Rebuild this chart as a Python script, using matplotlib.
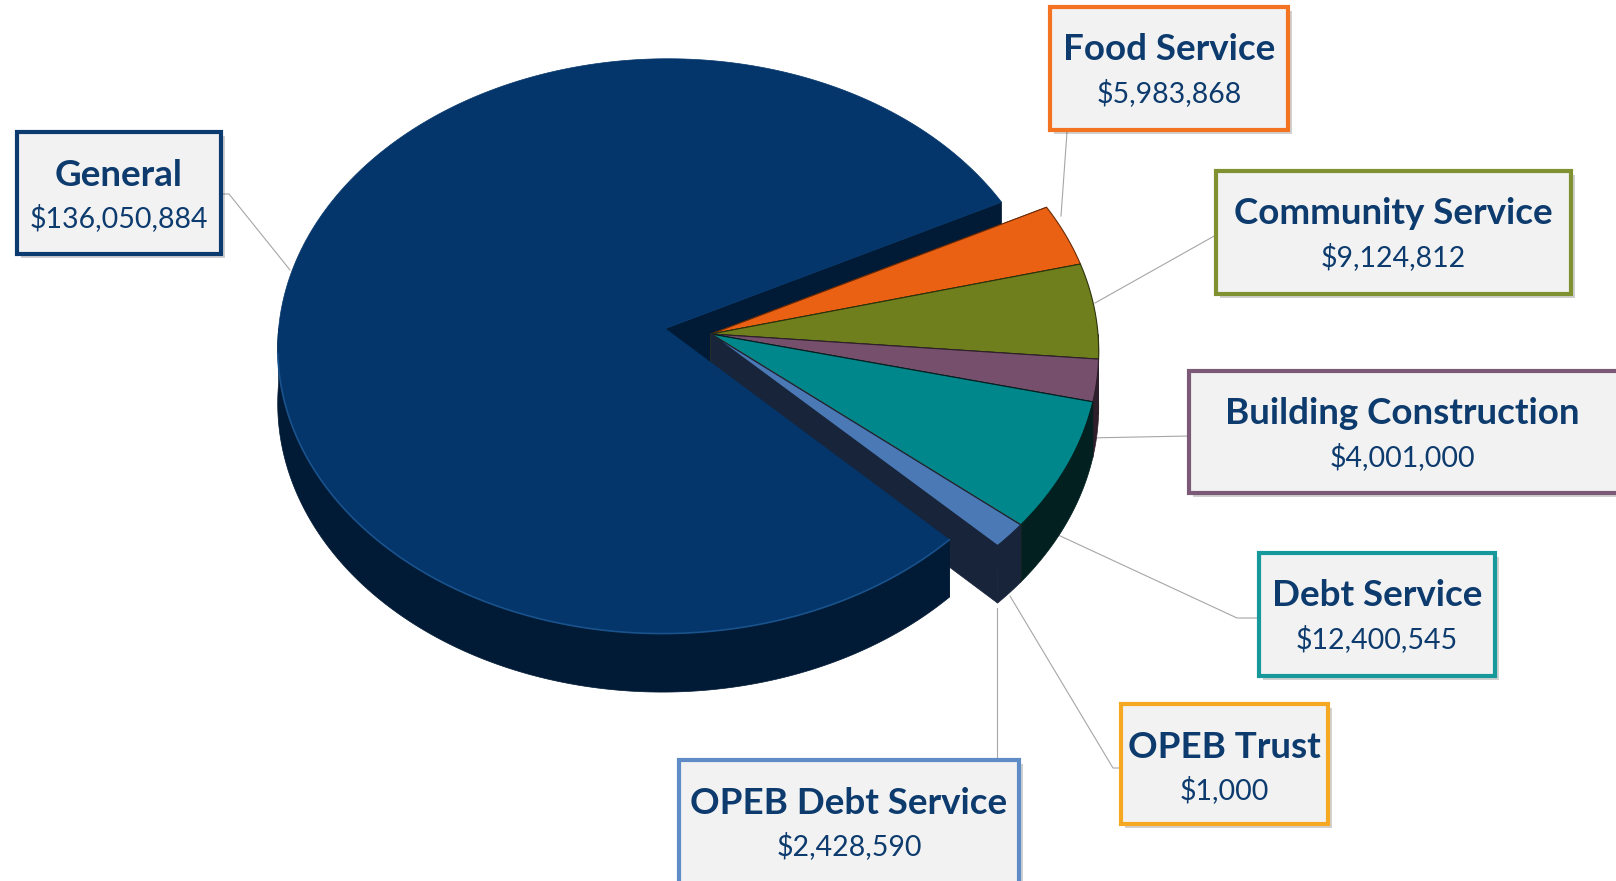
import numpy as np
import matplotlib.pyplot as plt
from matplotlib.patches import Polygon, Rectangle

# fund budgets, in the counterclockwise order the slices are laid out
labels = ['General', 'OPEB Debt Service', 'OPEB Trust', 'Debt Service',
          'Building Construction', 'Community Service', 'Food Service']
values = [136050884, 2428590, 1000, 12400545, 4001000, 9124812, 5983868]
explode = [0.12, 0, 0, 0, 0, 0, 0]

top_colors = ['#04366B', '#4A79B5', '#F5A623', '#00878B', '#754F6B', '#6F7F1D', '#EB6113']
side_colors = ['#011A35', '#17243A', '#6B4A10', '#01201F', '#2E1F2B', '#2B330C', '#6A2A06']
border_colors = ['#0C3B70', '#5F8CC6', '#F7A823', '#17999B', '#7C5A77', '#7F9130', '#F47321']

# label boxes (x0, y0, x1, y1) in pixels and leader lines
boxes = [(17, 132, 221, 254), (679, 760, 1019, 895), (1121, 704, 1328, 824),
         (1259, 553, 1495, 676), (1189, 371, 1630, 493), (1216, 171, 1571, 294),
         (1050, 7, 1288, 130)]
leaders = [[(221, 194), (229, 194), (290, 270)],
           [(997, 760), (997, 608)],
           [(1121, 768), (1113, 768), (1010, 596)],
           [(1259, 618), (1237, 618), (1056, 534)],
           [(1189, 436), (1087, 438)],
           [(1216, 235), (1095, 303)],
           [(1067, 132), (1061, 216)]]

W, H = 1616, 881
CX, CY = 711, 334      # apex of the non exploded slices
A, B, D, K = 387, 287, 55, 0.061
START = np.deg2rad(27)

NAVY = '#0D3B6E'


def pt(u, v, z=0.0):
    w = 1 + K * v
    return (CX + A * u / w, CY - B * v / w + D * z / w)


def top_face(t1, t2, du, dv):
    ts = np.linspace(t1, t2, int(abs(t2 - t1) * 90) + 3)
    return [pt(du, dv)] + [pt(du + np.cos(t), dv + np.sin(t)) for t in ts]


def front_parts(t1, t2):
    # pieces of [t1, t2] on the near half of the disk
    parts = []
    for k in range(-1, 3):
        lo = max(t1, np.pi + 2 * np.pi * k)
        hi = min(t2, 2 * np.pi + 2 * np.pi * k)
        if hi > lo:
            parts.append((lo, hi))
    return parts


def outer_wall(t1, t2, du, dv):
    ts = np.linspace(t1, t2, int(abs(t2 - t1) * 90) + 3)
    upper = [pt(du + np.cos(t), dv + np.sin(t), 0) for t in ts]
    lower = [pt(du + np.cos(t), dv + np.sin(t), 1) for t in ts[::-1]]
    return upper + lower


def radial_wall(t, du, dv):
    return [pt(du, dv, 0), pt(du + np.cos(t), dv + np.sin(t), 0),
            pt(du + np.cos(t), dv + np.sin(t), 1), pt(du, dv, 1)]


fig = plt.figure(figsize=(W / 100, H / 100), dpi=100)
ax = fig.add_axes([0, 0, 1, 1])
ax.set_xlim(0, W)
ax.set_ylim(H, 0)
ax.axis('off')

total = float(sum(values))
spans = [v / total * 2 * np.pi for v in values]
starts = START + np.concatenate([[0], np.cumsum(spans)[:-1]])

geo = []
for i in range(len(values)):
    t1, t2 = starts[i], starts[i] + spans[i]
    mid = (t1 + t2) / 2
    geo.append((t1, t2, explode[i] * np.cos(mid), explode[i] * np.sin(mid)))

# leader lines go underneath
for line in leaders:
    xs, ys = zip(*line)
    ax.plot(xs, ys, color='#A6A6A6', lw=0.8, zorder=1)

# radial walls of the big slice sit behind the small ones
t1, t2, du, dv = geo[0]
for t in (t1, t2):
    ax.add_patch(Polygon(radial_wall(t, du, dv), closed=True, fc=side_colors[0],
                         ec=side_colors[0], lw=0.5, zorder=2))

# small slices from back to front
z = 3
for i in range(len(values) - 1, 0, -1):
    t1, t2, du, dv = geo[i]
    walls = [radial_wall(t1, du, dv), radial_wall(t2, du, dv)]
    walls += [outer_wall(a, b, du, dv) for a, b in front_parts(t1, t2)]
    for poly in walls:
        ax.add_patch(Polygon(poly, closed=True, fc=side_colors[i], ec=side_colors[i],
                             lw=0.5, zorder=z))
    ax.add_patch(Polygon(top_face(t1, t2, du, dv), closed=True, fc=top_colors[i],
                         ec=side_colors[i], lw=0.8, zorder=z + 0.5))
    z += 1

# the big slice last
t1, t2, du, dv = geo[0]
for a, b in front_parts(t1, t2):
    ax.add_patch(Polygon(outer_wall(a, b, du, dv), closed=True, fc=side_colors[0],
                         ec=side_colors[0], lw=0.5, zorder=z))
ax.add_patch(Polygon(top_face(t1, t2, du, dv), closed=True, fc=top_colors[0],
                     ec=top_colors[0], lw=0.5, zorder=z + 0.5))
ts = np.linspace(np.deg2rad(185), t2, 120)
rim = [pt(du + np.cos(t), dv + np.sin(t)) for t in ts]
ax.plot(*zip(*rim), color='#1E5A96', lw=1.2, alpha=0.8, zorder=z + 0.6)

# label boxes
for i, lab in enumerate(labels):
    x0, y0, x1, y1 = boxes[i]
    ax.add_patch(Rectangle((x0 + 4, y0 + 4), x1 - x0, y1 - y0, fc='#000000', ec='none',
                           alpha=0.18, zorder=20))
    ax.add_patch(Rectangle((x0, y0), x1 - x0, y1 - y0, fc='#F2F2F2', ec=border_colors[i],
                           lw=3, zorder=21))
    xc = (x0 + min(x1, W)) / 2
    ax.text(xc, y0 + 43, lab, ha='center', va='center', fontsize=26.5, fontweight='bold',
            color=NAVY, family='Lato', zorder=22)
    ax.text(xc, y0 + 86, '${:,}'.format(values[i]), ha='center', va='center', fontsize=20.5,
            color=NAVY, family='Lato', zorder=22)

fig.savefig('out.png', dpi=100)
